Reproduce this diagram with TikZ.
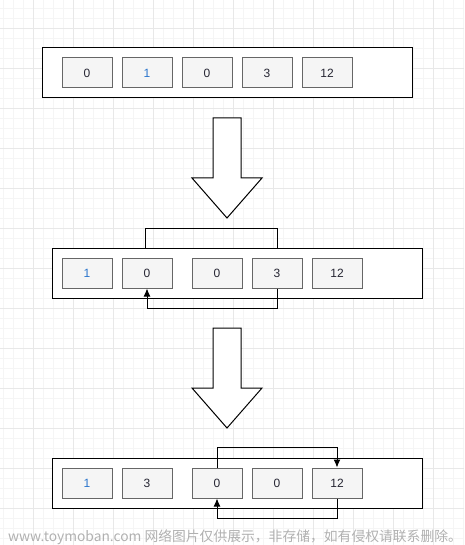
\documentclass[tikz,border=0pt]{standalone}
\usepackage{fontspec}
\usetikzlibrary{arrows.meta}
\setmainfont{Liberation Sans}
\newfontfamily\cjkfont{Noto Sans CJK SC}
\definecolor{cellfill}{HTML}{F5F5F5}
\definecolor{cellline}{HTML}{666666}
\definecolor{digitblue}{HTML}{2A74CC}
\definecolor{digitdark}{HTML}{262633}
\definecolor{gridminor}{HTML}{F5F5F5}
\definecolor{gridmajor}{HTML}{E8E8E8}
\definecolor{markgray}{HTML}{B0B0B0}
\tikzset{
  cell/.style={draw=cellline,fill=cellfill,line width=1pt,minimum width=50pt,minimum height=30pt,
    inner sep=0pt,text=digitdark,font=\fontsize{12}{14}\selectfont},
  rowbox/.style={draw=black,fill=white,line width=1pt,minimum width=370pt,minimum height=50pt,inner sep=0pt},
  link/.style={line width=1pt,draw=black},
  bigarrow/.style={draw=black,fill=white,line width=1pt,line join=miter}
}
\begin{document}
\begin{tikzpicture}[x=1pt,y=-1pt,>={Latex[length=8pt,width=7pt]}]
\useasboundingbox (0,0) rectangle (464,545);
% background grid
\foreach \x in {3,13,...,463} \draw[gridminor,line width=0.8pt] (\x,0) -- (\x,545);
\foreach \y in {8,18,...,545} \draw[gridminor,line width=0.8pt] (0,\y) -- (464,\y);
\foreach \x in {33,73,...,463} \draw[gridmajor,line width=0.8pt] (\x,0) -- (\x,545);
\foreach \y in {28,68,...,545} \draw[gridmajor,line width=0.8pt] (0,\y) -- (464,\y);
% big arrows
\draw[bigarrow] (213,118) -- (241,118) -- (241,178) -- (262,178) -- (227,218) -- (192,178) -- (213,178) -- cycle;
\draw[bigarrow] (213,328) -- (241,328) -- (241,388) -- (262,388) -- (227,428) -- (192,388) -- (213,388) -- cycle;
% first row
\node (r1) at (227,73) [rowbox] {};
\node (a1) at (87,73) [cell] {0};
\node (a2) at (147,73) [cell,text=digitblue] {1};
\node (a3) at (207,73) [cell] {0};
\node (a4) at (267,73) [cell] {3};
\node (a5) at (327,73) [cell] {12};
% second row
\coordinate (b4top) at (277,258);
\coordinate (b2top) at (145,258);
\draw[link] (b4top) -- ++(0,-30) -| (b2top);
\node (r2) at (237,273) [rowbox] {};
\node (b1) at (87,273) [cell,text=digitblue] {1};
\node (b2) at (147,273) [cell] {0};
\node (b3) at (217,273) [cell] {0};
\node (b4) at (277,273) [cell] {3};
\node (b5) at (337,273) [cell] {12};
\draw[link,->] (b4.south) -- ++(0,20) -| (b2.south);
% third row
\node (r3) at (237,483) [rowbox] {};
\node (c1) at (87,483) [cell,text=digitblue] {1};
\node (c2) at (147,483) [cell] {3};
\node (c3) at (217,483) [cell] {0};
\node (c4) at (277,483) [cell] {0};
\node (c5) at (337,483) [cell] {12};
\draw[link,->] (c3.north) -- ++(0,-20) -| (c5.north);
\draw[link,->] (c5.south) -- ++(0,20) -| (c3.south);
% watermark
\node (mark) at (235,537) [text=markgray,font=\cjkfont\fontsize{13.8}{16}\selectfont,inner sep=0pt] {www.toymoban.com 网络图片仅供展示，非存储，如有侵权请联系删除。};
\end{tikzpicture}
\end{document}
